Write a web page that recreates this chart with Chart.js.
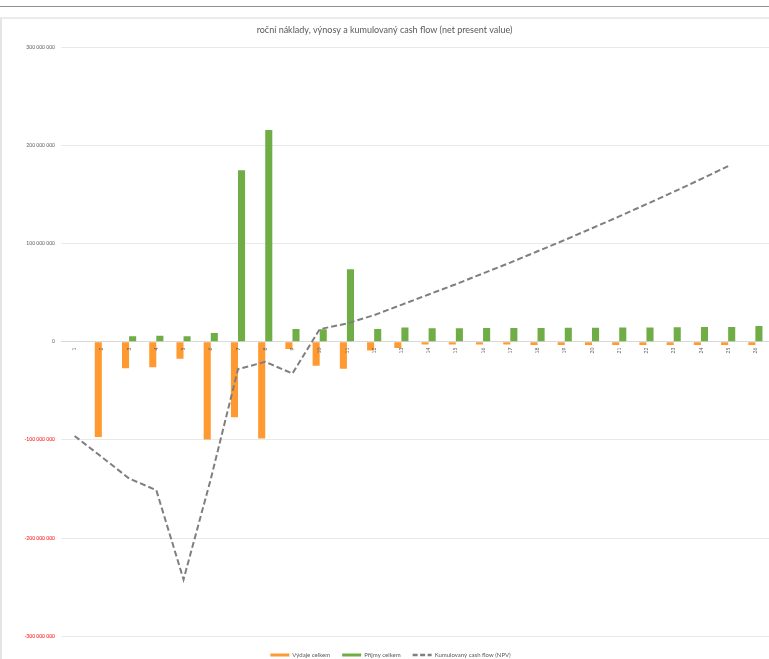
<!DOCTYPE html>
<html>
<head>
<meta charset="utf-8">
<script src="https://cdn.jsdelivr.net/npm/chart.js@4"></script>
<style>
  html, body { margin: 0; padding: 0; background: #fff; overflow: hidden; width: 769px; height: 659px; }
  #sheetLine { position: absolute; left: 0; top: 6px; width: 769px; height: 1px; background: #8f8f8f; }
  #frame { position: absolute; left: 0; top: 17px; width: 800px; height: 700px;
           border-left: 2px solid #e4e4e4; border-top: 2px solid #ebebeb; }
  #chart { position: absolute; left: 0; top: 0; }
</style>
</head>
<body>
<div id="sheetLine"></div>
<div id="frame"></div>
<canvas id="chart" width="769" height="668"></canvas>
<script>
// Roky projektu
const years = ['1','2','3','4','5','6','7','8','9','10','11','12','13','14','15','16','17','18','19','20','21','22','23','24','25','26'];

// Výdaje celkem (Kč)
const expenses = [0, -97e6, -27e6, -26e6, -17.5e6, -99.5e6, -77e6, -98.5e6, -7.5e6, -24.5e6, -27.5e6, -9e6, -6.5e6,
  -2.8e6, -2.8e6, -2.8e6, -2.9e6, -3.3e6, -3.3e6, -3.3e6, -3.4e6, -3.4e6, -3.4e6, -3.5e6, -3.5e6, -3.5e6];

// Příjmy celkem (Kč)
const revenues = [0, 0, 5.5e6, 5.9e6, 5.5e6, 8.7e6, 174.6e6, 215.4e6, 13e6, 12.7e6, 73.8e6, 13e6, 14.3e6,
  13.6e6, 13.7e6, 13.8e6, 13.9e6, 14.0e6, 14.1e6, 14.2e6, 14.3e6, 14.5e6, 14.6e6, 14.8e6, 14.9e6, 16.0e6];

// Kumulovaný cash flow (NPV), Kč
const cumulativeNpv = [-96e6, -117.5e6, -139.3e6, -151.2e6, -242.2e6, -140e6, -28e6, -20.6e6, -32.4e6, 12.7e6, 18.5e6, 27e6,
  37.5e6, 48e6, 58.5e6, 69.5e6, 80.5e6, 92e6, 103.5e6, 115.5e6, 127.5e6, 140e6, 152.5e6, 165.5e6, 178.7e6, null];

// Osa Y
const yTicks = { min: -300e6, max: 300e6, step: 100e6 };

const ORANGE = '#ff9a33';
const GREEN = '#70ad47';
const GREY = '#7f7f7f';
const TEXT = '#595959';

function formatCz(v) {
  const s = String(Math.abs(Math.round(v))).replace(/\B(?=(\d{3})+(?!\d))/g, ' ');
  return (v < 0 ? '-' : '') + s;
}

// Popisky roků kreslené přímo pod nulovou osou
const yearLabels = {
  id: 'yearLabels',
  beforeDraw(chart) {
    // legenda je mírně posunutá doprava od středu
    if (chart.legend && !chart.legend._shifted) {
      chart.legend.left += 12;
      chart.legend._shifted = true;
    }
  },
  afterDatasetsDraw(chart) {
    const { ctx, scales: { x, y } } = chart;
    const y0 = y.getPixelForValue(0);
    ctx.save();
    ctx.font = '5px Lato';
    ctx.fillStyle = TEXT;
    ctx.textAlign = 'right';
    ctx.textBaseline = 'middle';
    years.forEach((lbl, i) => {
      ctx.save();
      ctx.translate(x.getPixelForValue(i), y0 + 6);
      ctx.rotate(-Math.PI / 2);
      ctx.fillText(lbl, 0, 0);
      ctx.restore();
    });
    ctx.restore();
  }
};

new Chart(document.getElementById('chart'), {
  type: 'bar',
  data: {
    labels: years,
    datasets: [
      { label: 'Výdaje celkem', data: expenses, backgroundColor: ORANGE, borderColor: ORANGE, borderWidth: 0, order: 2 },
      { label: 'Příjmy celkem', data: revenues, backgroundColor: GREEN, borderColor: GREEN, borderWidth: 0, order: 2 },
      { type: 'line', label: 'Kumulovaný cash flow (NPV)', data: cumulativeNpv, borderColor: GREY, backgroundColor: GREY,
        borderWidth: 2, borderDash: [6, 3], pointRadius: 0, fill: false, tension: 0, spanGaps: false, order: 1 }
    ]
  },
  options: {
    responsive: false,
    animation: false,
    layout: { padding: 0 },
    datasets: { bar: { barPercentage: 1, categoryPercentage: 0.52 } },
    plugins: {
      title: {
        display: true,
        text: 'roční náklady, výnosy a kumulovaný cash flow (net present value)',
        color: TEXT,
        font: { family: 'Lato', size: 9, weight: 'normal' },
        padding: { top: 24.6, bottom: 11.6 }
      },
      legend: {
        position: 'bottom',
        labels: {
          color: TEXT,
          font: { family: 'Lato', size: 6 },
          usePointStyle: true,
          pointStyleWidth: 19,
          padding: 12,
          generateLabels(chart) {
            return chart.data.datasets.map((ds, i) => ({
              text: ds.label,
              fillStyle: ds.borderColor,
              strokeStyle: ds.borderColor,
              lineWidth: ds.type === 'line' ? 2.5 : 3,
              lineDash: ds.type === 'line' ? [5, 2.5] : [],
              pointStyle: 'line',
              hidden: false,
              datasetIndex: i,
              fontColor: TEXT
            }));
          }
        }
      },
      tooltip: { enabled: false }
    },
    scales: {
      x: {
        display: true,
        grid: { display: false },
        border: { display: false },
        ticks: { display: false },
        afterFit(scale) { scale.height = 3.7; }
      },
      y: {
        min: yTicks.min,
        max: yTicks.max,
        border: { display: false },
        grid: {
          drawTicks: false,
          color: (c) => (c.tick && c.tick.value === 0 ? '#d9d9d9' : '#e9e9e9'),
          lineWidth: 1
        },
        ticks: {
          stepSize: yTicks.step,
          padding: 6,
          font: { family: 'Lato', size: 5 },
          color: (c) => (c.tick && c.tick.value < 0 ? '#ff0000' : TEXT),
          callback: (v) => formatCz(v)
        },
        afterFit(scale) { scale.width = 61; }
      }
    }
  },
  plugins: [yearLabels]
});
</script>
</body>
</html>
